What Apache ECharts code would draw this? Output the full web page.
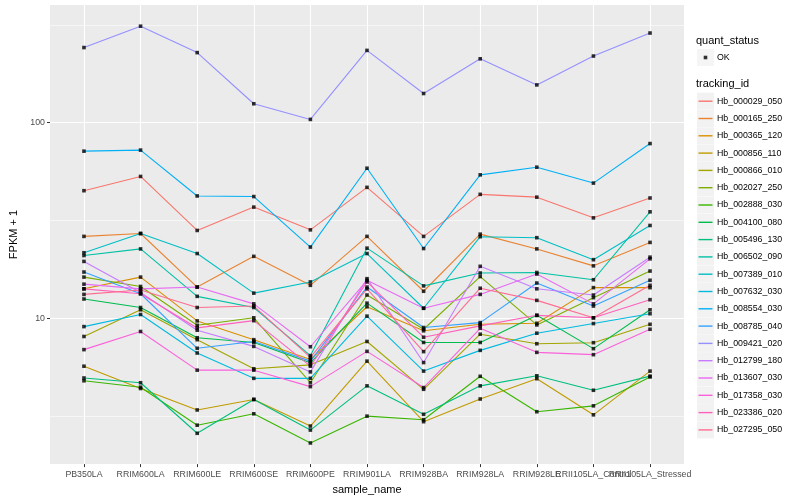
<!DOCTYPE html>
<html>
<head>
<meta charset="utf-8">
<script src="https://cdn.jsdelivr.net/npm/echarts@6/dist/echarts.min.js"></script>
<style>html,body{margin:0;padding:0;background:#fff}#c{width:800px;height:500px}</style>
</head>
<body>
<div id="c"></div>
<script>
const categories = ['PB350LA','RRIM600LA','RRIM600LE','RRIM600SE','RRIM600PE','RRIM901LA','RRIM928BA','RRIM928LA','RRIM928LE','RRII105LA_Control','RRII105LA_Stressed'];
const xTickIdx = [0,1,2,3,4,5,6,7,8,9,10];
const yTicks = [10, 100];
const yMinorTicks = [3.162, 31.62, 316.2];

const trackingIds = ['Hb_000029_050','Hb_000165_250','Hb_000365_120','Hb_000856_110','Hb_000866_010','Hb_002027_250','Hb_002888_030','Hb_004100_080','Hb_005496_130','Hb_006502_090','Hb_007389_010','Hb_007632_030','Hb_008554_030','Hb_008785_040','Hb_009421_020','Hb_012799_180','Hb_013607_030','Hb_017358_030','Hb_023386_020','Hb_027295_050'];
const colors = ['#F8766D','#EA8331','#D89000','#C09B00','#A3A500','#7CAE00','#39B600','#00BB4E','#00BF7D','#00C1A3','#00BFC4','#00BAE0','#00B0F6','#35A2FF','#9590FF','#C77CFF','#E76BF3','#FA62DB','#FF62BC','#FF6C91'];

const hb_000029_050 = [45.0, 53.2, 28.2, 37.1, 28.4, 46.8, 26.3, 43.1, 41.7, 32.7, 41.3];
const hb_000165_250 = [26.3, 27.2, 14.5, 20.8, 14.8, 26.3, 13.8, 27.0, 22.7, 18.6, 24.5];
const hb_000365_120 = [14.2, 16.3, 9.74, 7.81, 6.19, 11.5, 8.67, 9.36, 9.47, 14.4, 14.4];
const hb_000856_110 = [5.72, 4.40, 3.42, 3.87, 2.83, 6.07, 2.98, 3.89, 4.94, 3.23, 5.40];
const hb_000866_010 = [8.11, 11.1, 7.81, 5.55, 5.81, 7.65, 4.36, 8.33, 7.45, 7.54, 9.36];
const hb_002027_250 = [16.3, 14.6, 9.25, 10.1, 4.71, 13.2, 8.83, 16.4, 9.29, 12.8, 17.5];
const hb_002888_030 = [4.82, 4.47, 2.86, 3.27, 2.32, 3.18, 3.05, 5.08, 3.35, 3.59, 5.04];
const hb_004100_080 = [12.6, 11.4, 7.99, 7.56, 5.95, 12.0, 7.56, 7.56, 10.4, 7.03, 11.1];
const hb_005496_130 = [4.98, 4.71, 2.60, 3.87, 2.70, 4.54, 3.25, 4.54, 5.11, 4.31, 5.09];
const hb_006502_090 = [21.0, 22.7, 13.0, 11.4, 6.48, 22.9, 14.7, 17.1, 17.2, 15.8, 35.1];
const hb_007389_010 = [21.7, 27.2, 21.5, 13.5, 15.4, 21.5, 11.3, 26.2, 25.9, 20.0, 29.9];
const hb_007632_030 = [9.11, 10.5, 6.68, 4.96, 4.96, 10.3, 5.40, 6.89, 8.43, 9.44, 10.6];
const hb_008554_030 = [71.6, 72.5, 42.3, 42.0, 23.2, 58.6, 22.8, 54.2, 59.3, 49.2, 78.3];
const hb_008785_040 = [17.3, 13.4, 7.06, 7.65, 6.07, 14.5, 9.01, 9.55, 15.2, 11.6, 15.7];
const hb_009421_020 = [242, 311, 228, 125, 104, 234, 141, 212, 156, 219, 287];
const hb_012799_180 = [19.6, 13.6, 8.73, 7.22, 5.35, 16.0, 5.97, 18.5, 14.2, 13.2, 20.6];
const hb_013607_030 = [15.0, 14.2, 14.5, 11.9, 7.19, 15.7, 11.3, 13.3, 16.9, 11.9, 20.2];
const hb_017358_030 = [6.95, 8.60, 5.46, 5.46, 4.50, 6.81, 4.45, 8.93, 6.73, 6.55, 8.83];
const hb_023386_020 = [14.2, 13.4, 8.97, 9.77, 5.72, 15.4, 8.04, 9.19, 10.4, 10.1, 12.5];
const hb_027295_050 = [13.3, 14.0, 11.4, 11.6, 6.35, 14.2, 6.79, 14.3, 12.4, 10.1, 14.8];

const seriesValues = [hb_000029_050, hb_000165_250, hb_000365_120, hb_000856_110, hb_000866_010, hb_002027_250, hb_002888_030, hb_004100_080, hb_005496_130, hb_006502_090, hb_007389_010, hb_007632_030, hb_008554_030, hb_008785_040, hb_009421_020, hb_012799_180, hb_013607_030, hb_017358_030, hb_023386_020, hb_027295_050];

const X_MIN = -0.6, X_MAX = 10.6;
// label positions: the categories plus an empty label at the axis end (keeps the last two overlapping labels both visible)
const xLabelIdx = xTickIdx.concat([X_MAX]);

const FONT = 'Liberation Sans';
const lineSeries = trackingIds.map((name, k) => ({
  name: name,
  type: 'line',
  data: seriesValues[k].map((v, i) => [i, v]),
  symbol: 'none',
  color: colors[k],
  lineStyle: { width: 1.1, color: colors[k] },
  z: 2,
  animation: false,
  silent: true
}));
const pointData = [];
seriesValues.forEach(arr => arr.forEach((v, i) => pointData.push([i, v])));
const pointSeries = {
  name: 'OK', type: 'scatter', data: pointData, symbol: 'rect', symbolSize: 3.6,
  itemStyle: { color: '#000' }, z: 3, animation: false, silent: true
};

const chart = echarts.init(document.getElementById('c'), null, { renderer: 'canvas' });
chart.setOption({
  animation: false,
  backgroundColor: '#fff',
  textStyle: { fontFamily: FONT },
  title: [
    { text: 'quant_status', left: 696, top: 35, padding: 0, textStyle: { fontSize: 11, fontWeight: 'normal', color: '#000', fontFamily: FONT } },
    { text: 'tracking_id', left: 696, top: 78.5, padding: 0, textStyle: { fontSize: 11, fontWeight: 'normal', color: '#000', fontFamily: FONT } }
  ],
  grid: { left: 40, top: 5, right: 116, bottom: 31, show: true, backgroundColor: '#EBEBEB', borderWidth: 0, containLabel: false },
  xAxis: {
    type: 'value', min: X_MIN, max: X_MAX, splitNumber: 11,
    name: 'sample_name', nameLocation: 'middle', nameGap: 19,
    nameTextStyle: { fontSize: 11, color: '#000', fontFamily: FONT },
    axisLine: { show: false, onZero: false },
    axisTick: { show: true, length: 3, lineStyle: { color: '#333', width: 1 }, customValues: xTickIdx },
    axisLabel: { customValues: xLabelIdx, fontSize: 8.8, color: '#4D4D4D', margin: 6, fontFamily: FONT,
      hideOverlap: false,
      formatter: v => (Math.abs(v - Math.round(v)) < 1e-6 ? (categories[Math.round(v)] || '') : '') },
    splitLine: { show: true, lineStyle: { color: '#fff', width: 1.1 } }
  },
  yAxis: [
    {
      type: 'log', logBase: 10, min: 1.81, max: 399,
      name: 'FPKM + 1', nameLocation: 'middle', nameGap: 31,
      nameTextStyle: { fontSize: 11, color: '#000', fontFamily: FONT },
      axisLine: { show: false, onZero: false },
      axisTick: { show: true, length: 3, lineStyle: { color: '#333', width: 1 }, customValues: yTicks },
      axisLabel: { customValues: yTicks, fontSize: 8.8, color: '#4D4D4D', margin: 5, fontFamily: FONT },
      splitLine: { show: true, lineStyle: { color: '#fff', width: 1.1 } },
      z: 1
    },
    {
      type: 'log', logBase: 10, min: 1.81, max: 399, position: 'left',
      axisLine: { show: false, onZero: false },
      axisTick: { show: false, customValues: yMinorTicks },
      axisLabel: { show: false, customValues: yMinorTicks },
      splitLine: { show: true, lineStyle: { color: '#fff', width: 0.55 } },
      z: 0
    }
  ],
  legend: [
    {
      data: trackingIds, orient: 'vertical', left: 697, top: 92.7, padding: 0,
      itemWidth: 17, itemHeight: 17, itemGap: 0.3, icon: 'rect', selectedMode: false,
      itemStyle: { color: '#F2F2F2', borderWidth: 0 },
      textStyle: { fontSize: 8.8, color: '#000', fontFamily: FONT, padding: [0, 0, 0, -2] }
    },
    {
      data: trackingIds, orient: 'vertical', left: 698.5, top: 100.5, padding: 0,
      itemWidth: 14, itemHeight: 1.4, itemGap: 15.9, icon: 'rect', selectedMode: false,
      itemStyle: { borderWidth: 0 },
      textStyle: { fontSize: 1, color: 'rgba(0,0,0,0)' }, z: 5
    },
    {
      data: ['OK'], orient: 'vertical', left: 697, top: 49, padding: 0,
      itemWidth: 17, itemHeight: 17, icon: 'rect', selectedMode: false,
      itemStyle: { color: '#F2F2F2', borderWidth: 0 },
      textStyle: { fontSize: 8.8, color: '#000', fontFamily: FONT, padding: [0, 0, 0, -2] }
    },
    {
      data: ['OK'], orient: 'vertical', left: 703.7, top: 55.7, padding: 0,
      itemWidth: 3.6, itemHeight: 3.6, icon: 'rect', selectedMode: false,
      itemStyle: { color: '#000', borderWidth: 0 },
      textStyle: { fontSize: 1, color: 'rgba(0,0,0,0)' }, z: 5
    }
  ],
  series: lineSeries.concat([pointSeries])
});
</script>
</body>
</html>
